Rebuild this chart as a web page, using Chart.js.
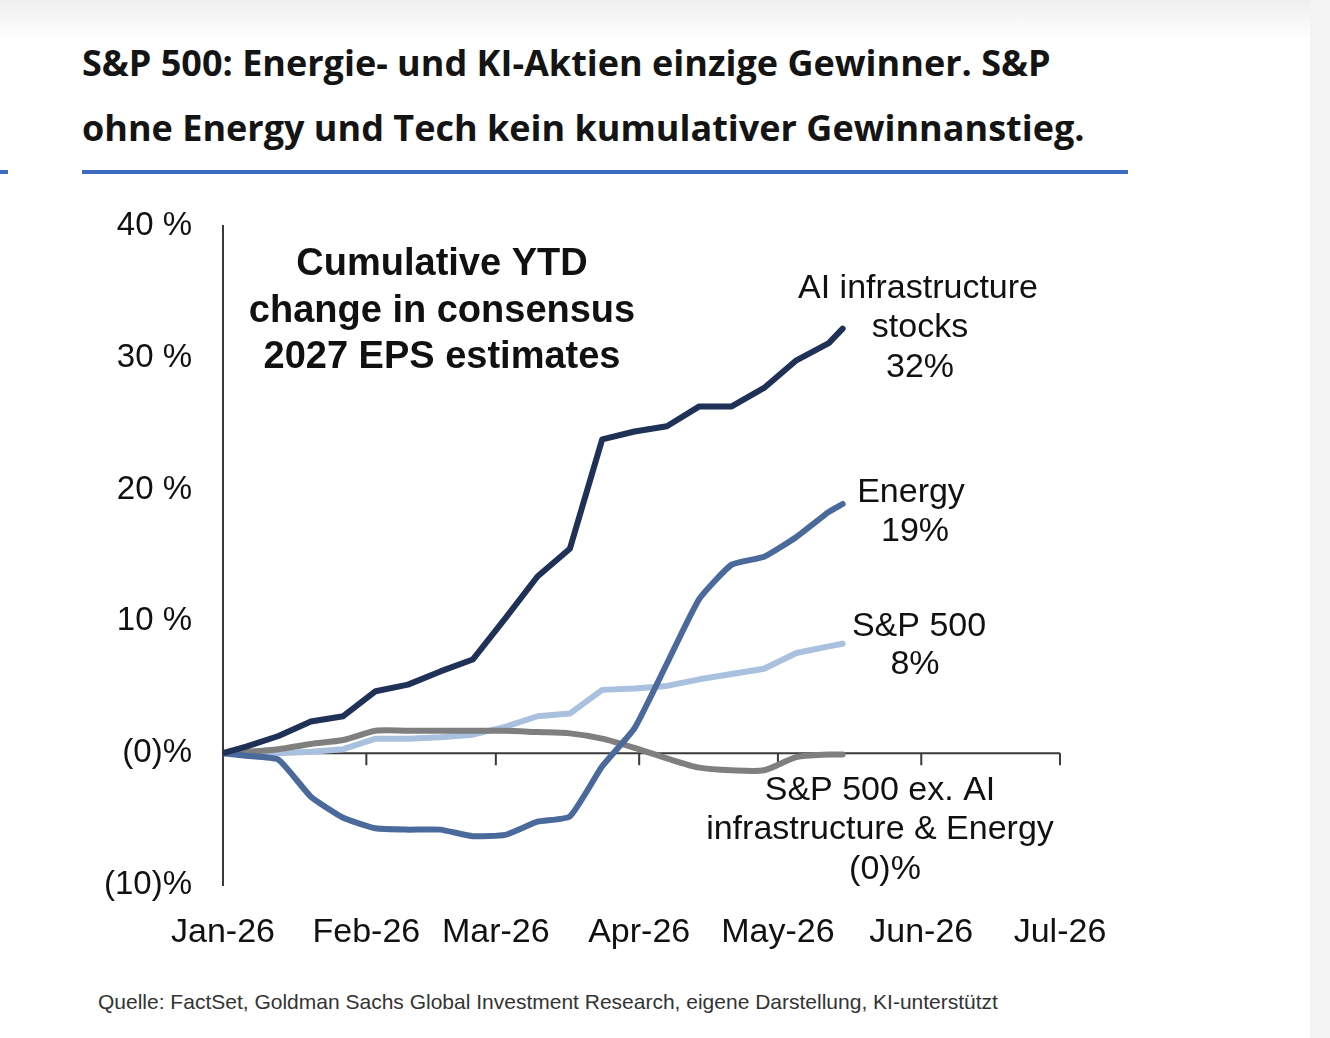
<!DOCTYPE html>
<html lang="de">
<head>
<meta charset="utf-8">
<title>S&amp;P 500 EPS</title>
<script src="https://cdn.jsdelivr.net/npm/chart.js@4.4.1/dist/chart.umd.min.js"></script>
<style>
  html, body { margin: 0; padding: 0; }
  body { width: 1330px; height: 1038px; position: relative; overflow: hidden; background: #fff;
         font-family: "Liberation Sans", Arial, sans-serif; }
  .topband { position: absolute; left: 0; top: 0; width: 1330px; height: 40px;
             background: linear-gradient(#efefef, #ffffff); }
  .rightstrip { position: absolute; left: 1310px; top: 0; width: 20px; height: 1038px; background: #f3f3f3; }
  .title { position: absolute; left: 82px; top: 30px; font-family: "Open Sans", sans-serif;
           font-weight: 700; font-size: 36px; line-height: 65px; color: #141414; }
  .rule { position: absolute; top: 170px; height: 4px; background: #3d6bbf; }
  #wrap { position: absolute; left: 0; top: 175px; }
  .source { position: absolute; left: 98px; top: 990px; font-size: 21px; color: #333; }
</style>
</head>
<body>
<div class="topband"></div>
<div class="rightstrip"></div>
<div class="title">S&amp;P 500: Energie- und KI-Aktien einzige Gewinner. S&amp;P<br>ohne Energy und Tech kein kumulativer Gewinnanstieg.</div>
<div class="rule" style="left:82px;width:1046px"></div>
<div class="rule" style="left:0;width:8px"></div>
<div id="wrap"><canvas id="eps" width="1330" height="805"></canvas></div>
<div class="source">Quelle: FactSet, Goldman Sachs Global Investment Research, eigene Darstellung, KI-unterstützt</div>

<script>
// days since 1 Jan 2026
var days = [0, 5, 12, 19, 26, 33, 40, 47, 54, 61, 68, 75, 82, 89, 96, 103, 110, 117, 124, 131, 134];
var aiInfra = [0, 0.5, 1.3, 2.4, 2.8, 4.7, 5.2, 6.2, 7.1, 10.2, 13.4, 15.5, 23.8, 24.4, 24.8, 26.3, 26.3, 27.7, 29.8, 31.1, 32.2];
var energy = [0, -0.2, -0.5, -3.3, -4.9, -5.7, -5.8, -5.8, -6.3, -6.2, -5.2, -4.8, -1.0, 1.9, 6.8, 11.7, 14.3, 14.9, 16.4, 18.3, 18.9];
var sp500 = [0, 0, 0, 0.1, 0.3, 1.1, 1.1, 1.2, 1.4, 2.0, 2.8, 3.0, 4.8, 4.9, 5.1, 5.6, 6.0, 6.4, 7.6, 8.1, 8.3];
var spEx = [0, 0.1, 0.3, 0.7, 1.0, 1.7, 1.7, 1.7, 1.7, 1.7, 1.6, 1.5, 1.1, 0.4, -0.4, -1.1, -1.3, -1.3, -0.3, -0.1, -0.1];

var monthDays = [0, 31, 59, 90, 120, 151, 181];
var monthLabels = ["Jan-26", "Feb-26", "Mar-26", "Apr-26", "May-26", "Jun-26", "Jul-26"];
var yTicks = [-10, 0, 10, 20, 30, 40];
var yLabels = ["(10)%", "(0)%", "10 %", "20 %", "30 %", "40 %"];

var TOP = 175; // canvas offset on the page

function pts(vals) {
  return vals.map(function (v, i) { return { x: days[i], y: v }; });
}

// zero axis with tick marks hanging below it
var zeroAxis = {
  id: 'zeroAxis',
  beforeDatasetsDraw: function (chart) {
    var ctx = chart.ctx, x = chart.scales.x, y = chart.scales.y;
    var y0 = y.getPixelForValue(0);
    ctx.save();
    ctx.strokeStyle = '#3a3a3a';
    ctx.lineWidth = 2;
    ctx.beginPath();
    ctx.moveTo(chart.chartArea.left, y0);
    ctx.lineTo(chart.chartArea.right, y0);
    monthDays.forEach(function (d, i) {
      if (i === 0) return;
      var px = x.getPixelForValue(d);
      ctx.moveTo(px, y0);
      ctx.lineTo(px, y0 + 12);
    });
    ctx.stroke();
    ctx.restore();
  }
};

// text boxes inside the chart
var notes = {
  id: 'notes',
  afterDraw: function (chart) {
    var ctx = chart.ctx;
    function t(s, x, y) { ctx.fillText(s, x, y - TOP); }
    ctx.save();
    ctx.fillStyle = '#111';
    ctx.textAlign = 'center';
    ctx.textBaseline = 'middle';
    ctx.font = 'bold 38px "Liberation Sans", Arial, sans-serif';
    t('Cumulative YTD', 442, 265);
    t('change in consensus', 442, 312);
    t('2027 EPS estimates', 442, 358);
    ctx.font = '34px "Liberation Sans", Arial, sans-serif';
    t('AI infrastructure', 918, 289);
    t('stocks', 920, 328);
    t('32%', 920, 368);
    t('Energy', 911, 493);
    t('19%', 915, 532);
    t('S&P 500', 919, 627);
    t('8%', 915, 665);
    t('S&P 500 ex. AI', 880, 791);
    t('infrastructure & Energy', 880, 830);
    t('(0)%', 885, 870);
    ctx.restore();
  }
};

new Chart(document.getElementById("eps"), {
  type: 'line',
  data: {
    datasets: [
      { label: "AI infrastructure stocks", data: pts(aiInfra), borderColor: "#1f3157", order: 0, tension: 0 },
      { label: "Energy", data: pts(energy), borderColor: "#4b6a9c", order: 1, tension: 0.15 },
      { label: "S&P 500 ex. AI infrastructure & Energy", data: pts(spEx), borderColor: "#7f7f7f", order: 2, tension: 0.25 },
      { label: "S&P 500", data: pts(sp500), borderColor: "#a9c0de", order: 3, tension: 0 }
    ]
  },
  options: {
    responsive: false,
    animation: false,
    layout: { padding: { top: 0, right: 270, left: 0, bottom: 0 } },
    elements: {
      point: { radius: 0 },
      line: { borderWidth: 6, borderCapStyle: 'round', borderJoinStyle: 'round', fill: false }
    },
    plugins: { legend: { display: false }, tooltip: { enabled: false } },
    scales: {
      x: {
        type: 'linear', min: 0, max: 181,
        grid: { display: false, drawTicks: false },
        border: { display: false },
        afterFit: function (s) { s.height = 95; },
        afterBuildTicks: function (s) { s.ticks = monthDays.map(function (d) { return { value: d }; }); },
        ticks: {
          padding: 27, maxRotation: 0, autoSkip: false, color: '#111',
          font: { family: '"Liberation Sans", Arial, sans-serif', size: 34 },
          callback: function (v) { return monthLabels[monthDays.indexOf(v)]; }
        }
      },
      y: {
        min: -10, max: 40,
        grid: { display: false, drawTicks: false },
        border: { display: true, color: '#3a3a3a', width: 2 },
        afterFit: function (s) { s.width = 223; },
        afterBuildTicks: function (s) { s.ticks = yTicks.map(function (v) { return { value: v }; }); },
        ticks: {
          padding: 31, color: '#111',
          font: { family: '"Liberation Sans", Arial, sans-serif', size: 33 },
          callback: function (v) { return yLabels[yTicks.indexOf(v)]; }
        }
      }
    }
  },
  plugins: [zeroAxis, notes]
});
</script>
</body>
</html>
